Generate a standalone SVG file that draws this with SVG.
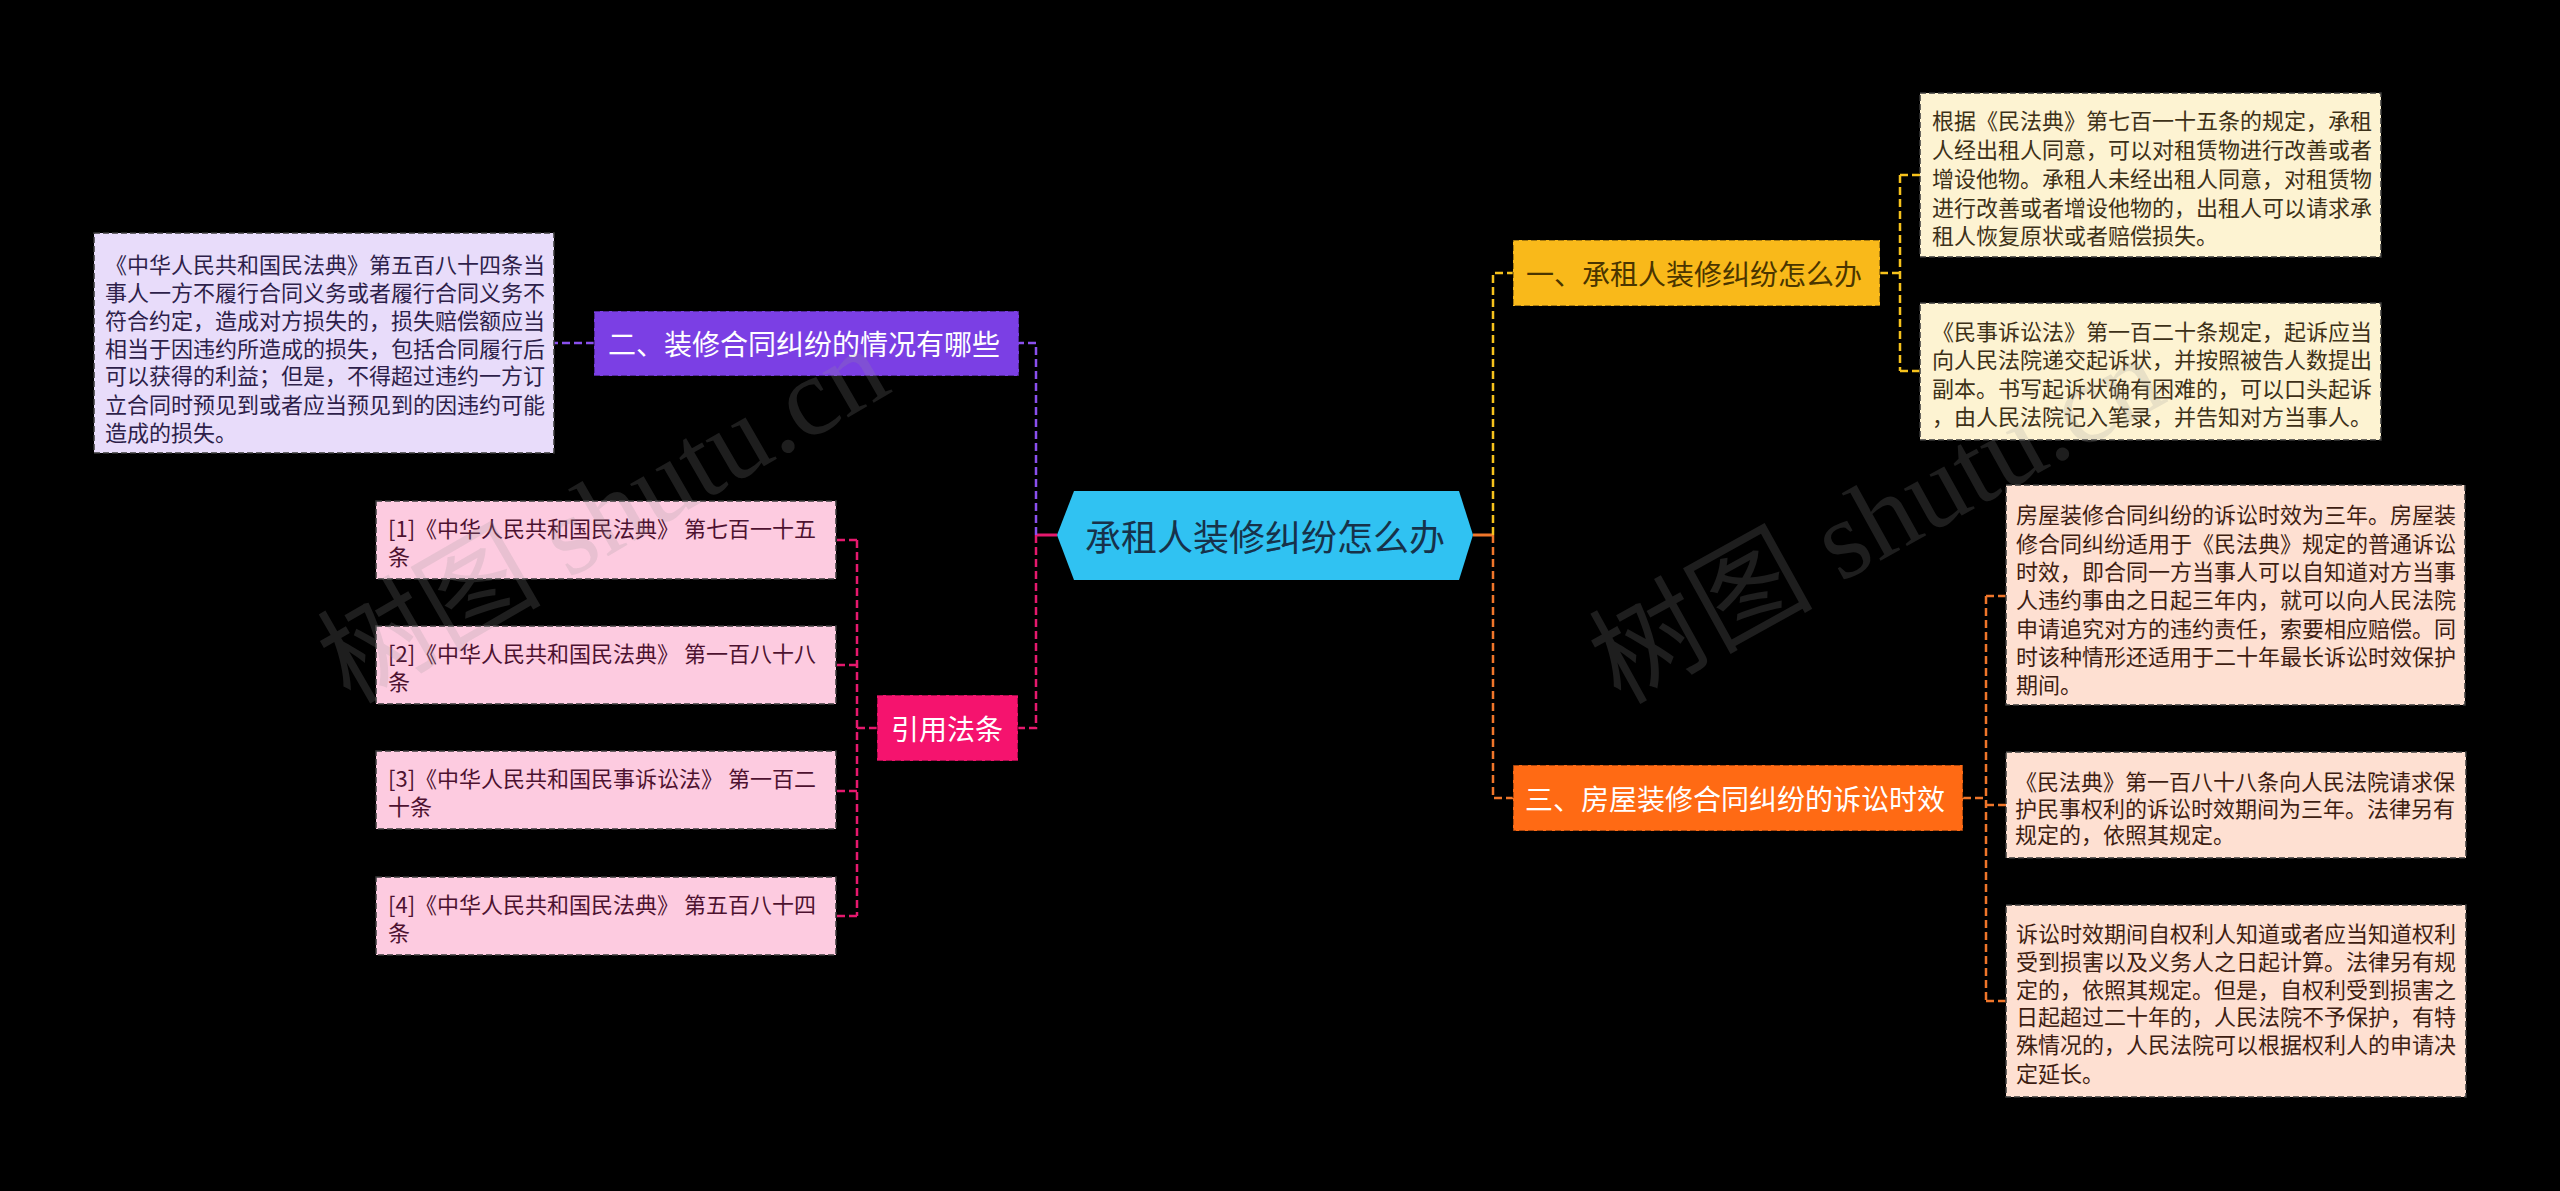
<svg xmlns="http://www.w3.org/2000/svg" width="2560" height="1191" viewBox="0 0 2560 1191">
<style>
text{font-family:"Noto Sans CJK SC","Noto Sans",sans-serif;}
.c{fill:none;stroke-width:2.5;stroke-dasharray:8 4;}
.s{fill:none;stroke-width:3;}
.nb{stroke:rgba(0,0,0,0.45);stroke-width:1.5;stroke-dasharray:6 3;}
.lb{stroke:#3a3a3a;stroke-width:1.5;stroke-dasharray:6 3;}
.t28{font-size:28px;dominant-baseline:central;}
.t22{font-size:22px;dominant-baseline:central;}
.wm{font-family:"Liberation Serif","Noto Sans CJK SC",serif;font-size:112px;fill:rgb(150,150,150);fill-opacity:0.2;}
</style>
<rect width="2560" height="1191" fill="#000"/>
<g id="connectors">
<path class="s" stroke="#F0762A" d="M1473,535 H1493"/>
<path class="s" stroke="#E5196E" d="M1057,535 H1036"/>
<path class="c" stroke="#F6C21C" d="M1493,535 V273 H1513"/>
<path class="c" stroke="#F0762A" d="M1493,535 V798 H1513"/>
<path class="c" stroke="#F6C21C" d="M1880,273 H1900 M1900,175 V371 M1900,175 H1920 M1900,371 H1920"/>
<path class="c" stroke="#F0762A" d="M1963,798 H1986 M1986,596 V1001 M1986,596 H2006 M1986,805 H2006 M1986,1001 H2006"/>
<path class="c" stroke="#8A50EE" d="M1036,535 V343 H1019"/>
<path class="c" stroke="#E5196E" d="M1036,535 V728 H1018"/>
<path class="c" stroke="#8A50EE" d="M594,343 H554"/>
<path class="c" stroke="#E5196E" d="M877,728 H857 M857,540 V916 M857,540 H836 M857,665 H836 M857,791 H836 M857,916 H836"/>
</g>
<g id="root">
<path d="M1057,535 L1074,491 L1459,491 L1473,535 L1459,580 L1074,580 Z" fill="#30C2F2"/>
<text x="1265" y="535" font-size="36" fill="#17324a" text-anchor="middle" dominant-baseline="central">承租人装修纠纷怎么办</text>
</g>
<g id="n1">
<rect x="1513" y="240" width="367" height="66" fill="#F9B91A" class="nb"/>
<text x="1526" y="273" class="t28" fill="#4a3500">一、承租人装修纠纷怎么办</text>
</g>
<g id="n1a">
<rect x="1920" y="93" width="461" height="164" fill="#FDF3D2" class="lb"/>
<text class="t22" fill="#3d3118"><tspan x="1932" y="119">根据《民法典》第七百一十五条的规定，承租</tspan><tspan x="1932" y="148">人经出租人同意，可以对租赁物进行改善或者</tspan><tspan x="1932" y="177">增设他物。承租人未经出租人同意，对租赁物</tspan><tspan x="1932" y="206">进行改善或者增设他物的，出租人可以请求承</tspan><tspan x="1932" y="234">租人恢复原状或者赔偿损失。</tspan></text>
</g>
<g id="n1b">
<rect x="1920" y="303" width="461" height="137" fill="#FDF3D2" class="lb"/>
<text class="t22" fill="#3d3118"><tspan x="1932" y="330">《民事诉讼法》第一百二十条规定，起诉应当</tspan><tspan x="1932" y="358">向人民法院递交起诉状，并按照被告人数提出</tspan><tspan x="1932" y="387">副本。书写起诉状确有困难的，可以口头起诉</tspan><tspan x="1932" y="415">，由人民法院记入笔录，并告知对方当事人。</tspan></text>
</g>
<g id="n3">
<rect x="1513" y="765" width="450" height="66" fill="#FF6A14" class="nb"/>
<text x="1525" y="798" class="t28" fill="#ffffff">三、房屋装修合同纠纷的诉讼时效</text>
</g>
<g id="n3a">
<rect x="2006" y="485" width="459" height="220" fill="#FEE0D2" class="lb"/>
<text class="t22" fill="#3e1e12"><tspan x="2016" y="513">房屋装修合同纠纷的诉讼时效为三年。房屋装</tspan><tspan x="2016" y="542">修合同纠纷适用于《民法典》规定的普通诉讼</tspan><tspan x="2016" y="570">时效，即合同一方当事人可以自知道对方当事</tspan><tspan x="2016" y="598">人违约事由之日起三年内，就可以向人民法院</tspan><tspan x="2016" y="627">申请追究对方的违约责任，索要相应赔偿。同</tspan><tspan x="2016" y="655">时该种情形还适用于二十年最长诉讼时效保护</tspan><tspan x="2016" y="683">期间。</tspan></text>
</g>
<g id="n3b">
<rect x="2006" y="752" width="460" height="106" fill="#FEE0D2" class="lb"/>
<text class="t22" fill="#3e1e12"><tspan x="2015" y="780">《民法典》第一百八十八条向人民法院请求保</tspan><tspan x="2015" y="807">护民事权利的诉讼时效期间为三年。法律另有</tspan><tspan x="2015" y="833">规定的，依照其规定。</tspan></text>
</g>
<g id="n3c">
<rect x="2006" y="905" width="460" height="192" fill="#FEE0D2" class="lb"/>
<text class="t22" fill="#3e1e12"><tspan x="2016" y="932">诉讼时效期间自权利人知道或者应当知道权利</tspan><tspan x="2016" y="960">受到损害以及义务人之日起计算。法律另有规</tspan><tspan x="2016" y="988">定的，依照其规定。但是，自权利受到损害之</tspan><tspan x="2016" y="1015">日起超过二十年的，人民法院不予保护，有特</tspan><tspan x="2016" y="1043">殊情况的，人民法院可以根据权利人的申请决</tspan><tspan x="2016" y="1072">定延长。</tspan></text>
</g>
<g id="n2">
<rect x="594" y="311" width="425" height="65" fill="#7B3FE4" class="nb"/>
<text x="608" y="343" class="t28" fill="#ffffff">二、装修合同纠纷的情况有哪些</text>
</g>
<g id="n2a">
<rect x="94" y="233" width="460" height="220" fill="#E8DCFA" class="lb"/>
<text class="t22" fill="#2e1f4a"><tspan x="105" y="263">《中华人民共和国民法典》第五百八十四条当</tspan><tspan x="105" y="291">事人一方不履行合同义务或者履行合同义务不</tspan><tspan x="105" y="319">符合约定，造成对方损失的，损失赔偿额应当</tspan><tspan x="105" y="347">相当于因违约所造成的损失，包括合同履行后</tspan><tspan x="105" y="374">可以获得的利益；但是，不得超过违约一方订</tspan><tspan x="105" y="403">立合同时预见到或者应当预见到的因违约可能</tspan><tspan x="105" y="431">造成的损失。</tspan></text>
</g>
<g id="nref">
<rect x="877" y="695" width="141" height="66" fill="#F5136E" class="nb"/>
<text x="947" y="728" class="t28" fill="#ffffff" text-anchor="middle">引用法条</text>
</g>
<g id="ref1">
<rect x="376" y="501" width="460" height="78" fill="#FDCBE0" class="lb"/>
<text class="t22" fill="#4d1230"><tspan x="388" y="527">[1]《中华人民共和国民法典》 第七百一十五</tspan><tspan x="388" y="555">条</tspan></text>
</g>
<g id="ref2">
<rect x="376" y="626" width="460" height="78" fill="#FDCBE0" class="lb"/>
<text class="t22" fill="#4d1230"><tspan x="388" y="652">[2]《中华人民共和国民法典》 第一百八十八</tspan><tspan x="388" y="680">条</tspan></text>
</g>
<g id="ref3">
<rect x="376" y="751" width="460" height="78" fill="#FDCBE0" class="lb"/>
<text class="t22" fill="#4d1230"><tspan x="388" y="777">[3]《中华人民共和国民事诉讼法》 第一百二</tspan><tspan x="388" y="805">十条</tspan></text>
</g>
<g id="ref4">
<rect x="376" y="877" width="460" height="78" fill="#FDCBE0" class="lb"/>
<text class="t22" fill="#4d1230"><tspan x="388" y="903">[4]《中华人民共和国民法典》 第五百八十四</tspan><tspan x="388" y="931">条</tspan></text>
</g>
<g id="watermarks">
<text class="wm" x="350" y="705" transform="rotate(-30 350 705)">树图 shutu.cn</text>
<text class="wm" x="1620" y="705" transform="rotate(-29 1620 705)">树图 shutu.cn</text>
</g>
</svg>
